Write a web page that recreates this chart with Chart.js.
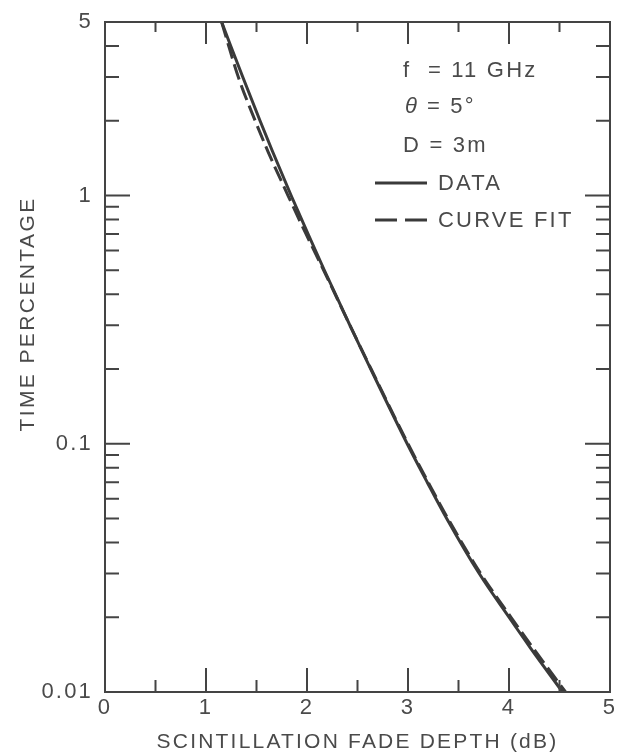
<!DOCTYPE html>
<html>
<head>
<meta charset="utf-8">
<script src="https://cdn.jsdelivr.net/npm/chart.js@4.4.1/dist/chart.umd.min.js"></script>
<style>
  body { margin: 0; background: #fff; }
  canvas { display: block; }
</style>
</head>
<body>
<canvas id="myChart" width="626" height="756"></canvas>
<script>
// values (time percentage vs fade depth in dB)
const timePct = [5, 4, 3, 2, 1.5, 1, 0.7, 0.5, 0.3, 0.2, 0.1, 0.07, 0.05, 0.03, 0.02, 0.015, 0.01];
const dataDepth = [1.155, 1.245, 1.364, 1.535, 1.66, 1.843, 2.01, 2.172, 2.425, 2.631, 2.992, 3.19, 3.383, 3.705, 4.0, 4.215, 4.53];
const fitDepth = [1.155, 1.225, 1.32, 1.487, 1.615, 1.812, 1.99, 2.165, 2.425, 2.635, 3.0, 3.2, 3.395, 3.72, 4.02, 4.24, 4.56];

const xTicks = [0, 0.5, 1, 1.5, 2, 2.5, 3, 3.5, 4, 4.5, 5];
const xLabels = ["0", "", "1", "", "2", "", "3", "", "4", "", "5"];
const yTicks = [5, 4, 3, 2, 1, 0.9, 0.8, 0.7, 0.6, 0.5, 0.4, 0.3, 0.2, 0.1,
  0.09, 0.08, 0.07, 0.06, 0.05, 0.04, 0.03, 0.02, 0.01];
const yLabels = { 5: "5", 1: "1", 0.1: "0.1", 0.01: "0.01" };

const notes = ["f  = 11 GHz", "\u03B8 = 5\u00B0", "D = 3m"];
const seriesNames = ["DATA", "CURVE FIT"];

const ctx = document.getElementById("myChart");
const textColor = "#4a4a4a";
const lineColor = "#3a3a3a";
const fontFamily = "'Liberation Sans', Arial, sans-serif";

const spacing = {
  id: "spacing",
  beforeDraw(chart) {
    chart.ctx.letterSpacing = "2.2px";
  },
};

const decor = {
  id: "decor",
  afterDraw(chart) {
    const c = chart.ctx;
    const a = chart.chartArea;
    const xs = chart.scales.x;
    const ys = chart.scales.y;
    c.save();
    c.strokeStyle = "#444";
    c.lineWidth = 2;
    c.strokeRect(a.left, a.top, a.right - a.left, a.bottom - a.top);

    // inward tick marks, x
    xTicks.forEach((v) => {
      if (v === 0 || v === 5) return;
      const px = xs.getPixelForValue(v);
      const len = Number.isInteger(v) ? 24 : 12;
      c.beginPath();
      c.moveTo(px, a.bottom);
      c.lineTo(px, a.bottom - len);
      c.moveTo(px, a.top);
      c.lineTo(px, a.top + len - 2);
      c.stroke();
    });
    // inward tick marks, y
    yTicks.forEach((v) => {
      if (v === 5 || v === 0.01) return;
      const py = ys.getPixelForValue(v);
      const len = yLabels[v] ? 25 : 14;
      c.beginPath();
      c.moveTo(a.left, py);
      c.lineTo(a.left + len, py);
      c.moveTo(a.right, py);
      c.lineTo(a.right - len, py);
      c.stroke();
    });

    // notes and key
    c.fillStyle = textColor;
    c.font = "22px " + fontFamily;
    c.letterSpacing = "2.2px";
    c.textBaseline = "middle";
    c.textAlign = "left";
    const noteY = [71, 107, 146];
    notes.forEach((t, i) => {
      if (i === 1) {
        c.font = "italic 22px " + fontFamily;
        c.fillText("\u03B8", 405, noteY[i]);
        c.font = "22px " + fontFamily;
        c.fillText("= 5\u00B0", 427, noteY[i]);
      } else {
        c.fillText(t, 403, noteY[i]);
      }
    });
    const keyY = [183, 220];
    chart.data.datasets.forEach((ds, i) => {
      c.strokeStyle = ds.borderColor;
      c.lineWidth = ds.borderWidth;
      c.setLineDash(i === 1 ? [22, 8] : []);
      c.beginPath();
      c.moveTo(375, keyY[i]);
      c.lineTo(427, keyY[i]);
      c.stroke();
      c.setLineDash([]);
      c.fillText(seriesNames[i], 438, keyY[i] + 1);
    });

    // y title
    c.translate(28, 314);
    c.rotate(-Math.PI / 2);
    c.textAlign = "center";
    c.font = "21px " + fontFamily;
    c.letterSpacing = "2.4px";
    c.fillText("TIME PERCENTAGE", 0, 0);
    c.restore();
  },
};

new Chart(ctx, {
  type: "scatter",
  data: {
    datasets: [
      {
        label: seriesNames[0],
        data: timePct.map((t, i) => ({ x: dataDepth[i], y: t })),
        showLine: true,
        borderColor: lineColor,
        borderWidth: 3,
        pointRadius: 0,
        cubicInterpolationMode: "monotone",
      },
      {
        label: seriesNames[1],
        data: timePct.map((t, i) => ({ x: fitDepth[i], y: t })),
        showLine: true,
        borderColor: lineColor,
        borderWidth: 3,
        borderDash: [16, 6],
        pointRadius: 0,
        cubicInterpolationMode: "monotone",
      },
    ],
  },
  options: {
    responsive: false,
    animation: false,
    layout: { padding: { top: 22, right: 16, left: 0, bottom: 0 } },
    plugins: {
      legend: { display: false },
      tooltip: { enabled: false },
    },
    scales: {
      x: {
        type: "linear",
        min: 0,
        max: 5,
        afterBuildTicks: (s) => {
          s.ticks = xTicks.map((v) => ({ value: v }));
        },
        afterFit: (s) => {
          s.height = 64;
        },
        ticks: {
          autoSkip: false,
          maxRotation: 0,
          padding: -5,
          color: textColor,
          font: { family: fontFamily, size: 22 },
          callback: (v) => xLabels[xTicks.indexOf(v)] ?? "",
        },
        grid: { display: false },
        border: { display: false },
        title: {
          display: true,
          text: "SCINTILLATION FADE DEPTH (dB)",
          color: textColor,
          font: { family: fontFamily, size: 21, lineHeight: 1.2 },
          padding: { top: 0, bottom: 1 },
        },
      },
      y: {
        type: "logarithmic",
        min: 0.01,
        max: 5,
        afterBuildTicks: (s) => {
          s.ticks = yTicks.map((v) => ({ value: v }));
        },
        afterFit: (s) => {
          s.width = 105;
        },
        ticks: {
          autoSkip: false,
          padding: 4,
          color: textColor,
          font: { family: fontFamily, size: 22 },
          callback: (v) => yLabels[v] || "",
        },
        grid: { display: false },
        border: { display: false },
      },
    },
  },
  plugins: [spacing, decor],
});
</script>
</body>
</html>
